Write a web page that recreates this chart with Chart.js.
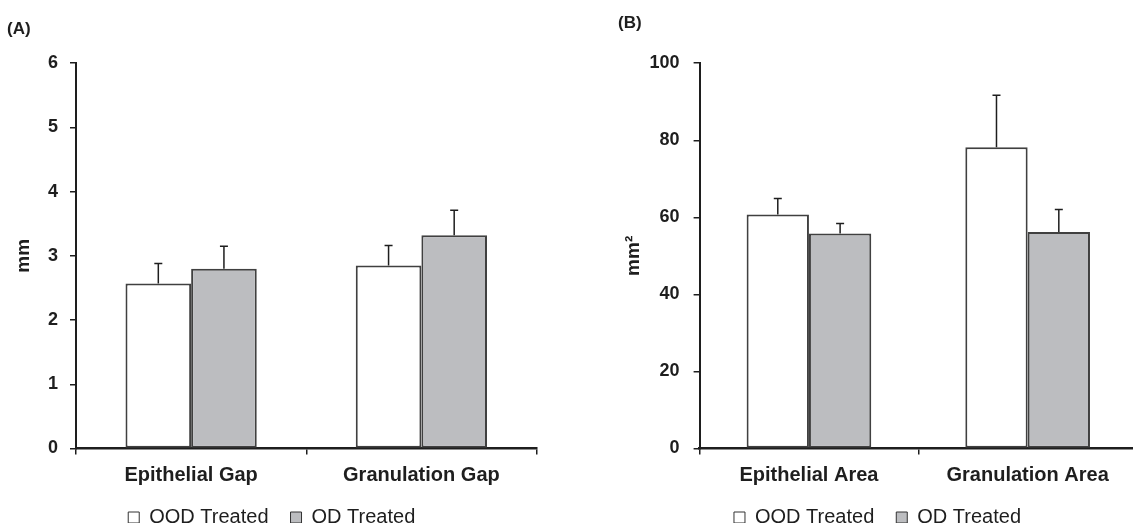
<!DOCTYPE html>
<html>
<head>
<meta charset="utf-8">
<script src="https://cdn.jsdelivr.net/npm/chart.js@4.4.1/dist/chart.umd.min.js"></script>
<style>
html, body { margin: 0; padding: 0; background: #fff; overflow: hidden; width: 1133px; height: 523px; }
#panelA { position: absolute; left: 0; top: 0; }
#panelB { position: absolute; left: 570px; top: 0; }
</style>
</head>
<body>
<canvas id="panelA" width="560" height="539"></canvas>
<canvas id="panelB" width="590" height="539"></canvas>
<script>
// panel A - gap lengths (mm)
var gapLabels = ['Epithelial Gap', 'Granulation Gap'];
var gapQOD = [2.57, 2.85];
var gapQODErr = [0.31, 0.31];
var gapQD = [2.80, 3.32];
var gapQDErr = [0.35, 0.39];
var gapTicks = [0, 1, 2, 3, 4, 5, 6];

// panel B - areas (mm2)
var areaLabels = ['Epithelial Area', 'Granulation Area'];
var areaQOD = [60.7, 78.2];
var areaQODErr = [4.2, 13.5];
var areaQD = [55.8, 56.2];
var areaQDErr = [2.6, 5.8];
var areaTicks = [0, 20, 40, 60, 80, 100];

var seriesNames = ['QOD Treated', 'QD Treated'];

var FONT = '"Liberation Sans", Arial, Helvetica, sans-serif';
var INK = '#1e1e1e';

// only the upper whisker is drawn, like the original figure
var errorBars = {
    id: 'errorBars',
    afterDatasetsDraw: function (chart) {
        var ctx = chart.ctx;
        var yScale = chart.scales.y;
        ctx.save();
        ctx.strokeStyle = INK;
        ctx.lineWidth = 1.5;
        chart.data.datasets.forEach(function (ds, i) {
            var meta = chart.getDatasetMeta(i);
            meta.data.forEach(function (bar, j) {
                var top = yScale.getPixelForValue(ds.data[j] + ds.errors[j]);
                ctx.beginPath();
                ctx.moveTo(bar.x, bar.y);
                ctx.lineTo(bar.x, top);
                ctx.moveTo(bar.x - 4, top);
                ctx.lineTo(bar.x + 4, top);
                ctx.stroke();
            });
        });
        ctx.restore();
    }
};

function makeChart(id, opts) {
    var ctx = document.getElementById(id).getContext('2d');
    return new Chart(ctx, {
        type: 'bar',
        data: {
            labels: opts.labels,
            datasets: [
                {label: seriesNames[0], data: opts.qod, errors: opts.qodErr,
                 backgroundColor: '#ffffff', borderColor: '#404040', borderWidth: 2, borderSkipped: false},
                {label: seriesNames[1], data: opts.qd, errors: opts.qdErr,
                 backgroundColor: '#bcbdc0', borderColor: '#404040', borderWidth: 2, borderSkipped: false}
            ]
        },
        options: {
            responsive: false,
            animation: false,
            layout: {padding: {left: opts.padLeft, right: opts.padRight, top: 0, bottom: 1.5}},
            datasets: {bar: {barPercentage: 1.0, categoryPercentage: 0.57}},
            plugins: {
                tooltip: {enabled: false},
                title: {
                    display: true,
                    text: opts.panel,
                    align: 'start',
                    color: INK,
                    font: {family: FONT, size: 17, weight: 'bold'},
                    padding: {top: opts.titleTop, bottom: opts.titleBottom}
                },
                legend: {
                    position: 'bottom',
                    labels: {
                        color: INK,
                        font: {family: FONT, size: 20},
                        boxWidth: 11,
                        boxHeight: 11,
                        padding: 22,
                        generateLabels: function (chart) {
                            var items = Chart.defaults.plugins.legend.labels.generateLabels(chart);
                            items.forEach(function (it) { it.lineWidth = 1; it.strokeStyle = '#333'; });
                            return items;
                        }
                    }
                }
            },
            scales: {
                x: {
                    grid: {drawOnChartArea: false, drawTicks: true, tickLength: 6, color: INK, lineWidth: 1.5, offset: true},
                    border: {color: INK, width: 2.5},
                    ticks: {color: INK, padding: 11, font: {family: FONT, size: 20, weight: 'bold', lineHeight: 1}},
                    afterFit: function (scale) { scale.height = 37; }
                },
                y: {
                    min: 0,
                    max: opts.ticks[opts.ticks.length - 1],
                    afterBuildTicks: function (scale) {
                        scale.ticks = opts.ticks.map(function (v) { return {value: v}; });
                    },
                    grid: {drawOnChartArea: false, drawTicks: true, tickLength: 6, color: INK, lineWidth: 1.5},
                    border: {color: INK, width: 2},
                    ticks: {color: INK, padding: opts.tickPad, font: {family: FONT, size: 18, weight: 'bold'}},
                    title: {
                        display: true,
                        text: opts.unit,
                        color: INK,
                        font: {family: FONT, size: 19, weight: 'bold'},
                        padding: {top: opts.unitPad, bottom: 0}
                    },
                    afterFit: function (scale) { scale.width = opts.axisWidth; }
                }
            }
        },
        plugins: [errorBars]
    });
}

makeChart('panelA', {
    panel: '(A)', labels: gapLabels, qod: gapQOD, qodErr: gapQODErr, qd: gapQD, qdErr: gapQDErr,
    ticks: gapTicks, unit: 'mm',
    padLeft: 7, padRight: 23.5, axisWidth: 69, tickPad: 12, unitPad: 5,
    titleTop: 19.4, titleBottom: 23.4
});

makeChart('panelB', {
    panel: '(B)', labels: areaLabels, qod: areaQOD, qodErr: areaQODErr, qd: areaQD, qdErr: areaQDErr,
    ticks: areaTicks, unit: 'mm\u00b2',
    padLeft: 48, padRight: 23, axisWidth: 81.6, tickPad: 14, unitPad: 4,
    titleTop: 12.9, titleBottom: 29.9
});
</script>
</body>
</html>
